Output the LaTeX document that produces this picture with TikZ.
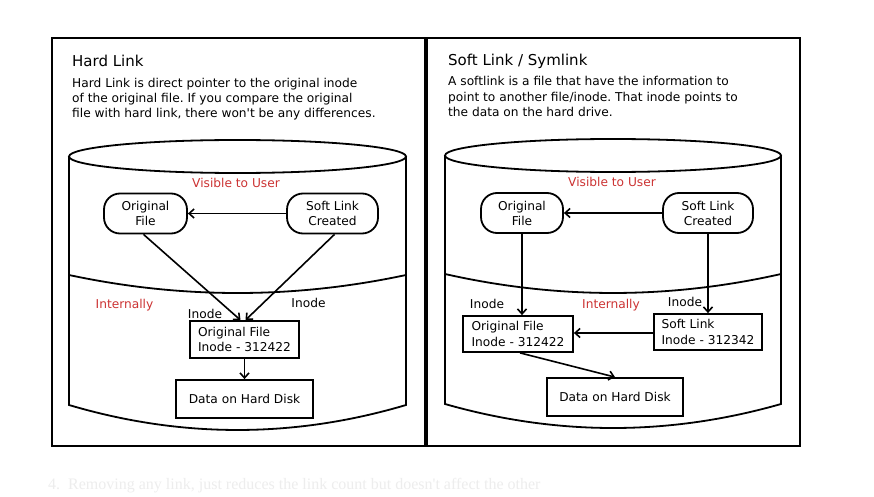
\documentclass[tikz,border=0pt]{standalone}
\usepackage{fontspec}
\setmainfont{DejaVu Sans}[Ligatures=TeXOff]
\newfontfamily\bgfont{Liberation Serif}[Ligatures=TeXOff]
\usetikzlibrary{arrows.meta}
\definecolor{lblred}{RGB}{204,51,51}
\frenchspacing
\begin{document}
\begin{tikzpicture}[x=1pt,y=-1pt,
  frame/.style={line width=2pt},
  divider/.style={line width=3.6pt},
  cyl/.style={line width=1.8pt},
  rnode/.style={draw,line width=1.8pt,rounded corners=16pt,minimum height=40pt,align=center,inner sep=0pt,font=\fontsize{12.2}{15}\selectfont},
  bnode/.style={draw,line width=1.8pt,align=left,inner sep=0pt,font=\fontsize{12.2}{15.5}\selectfont},
  link/.style={line width=1.6pt,-{Straight Barb[length=5pt,width=9pt]}},
  lbl/.style={font=\fontsize{12.2}{14}\selectfont,inner sep=0pt,anchor=base},
  redlbl/.style={lbl,text=lblred},
  title/.style={font=\fontsize{15}{18}\selectfont,inner sep=0pt,anchor=base west},
  desc/.style={font=\fontsize{12.2}{15.2}\selectfont,inner sep=0pt,align=left,anchor=north west},
]
\useasboundingbox (0,0) rectangle (874,497);
\fill[white] (0,0) rectangle (874,497);

% faint background text
\node[anchor=base west,inner sep=0pt,text=black!7,font=\bgfont\fontsize{16}{18}\selectfont] (bg) at (48,489) {4.\enspace Removing any link, just reduces the link count but doesn't affect the other};

% frames
\draw[frame] (52,38) rectangle (800,446);
\draw[divider] (426,38) -- (426,446);

% ---------------- left panel ----------------
\node[title] (ltitle) at (72,67) {Hard Link};
\node[desc] (ldesc) at (72,78.0) {Hard Link is direct pointer to the original inode\\of the original file. If you compare the original\\file with hard link, there won't be any differences.};

\draw[cyl] (237.5,156.5) ellipse [x radius=168.5, y radius=16.5];
\draw[cyl] (69,156.5) -- (69,405) .. controls (181.3,438.3) and (293.7,438.3) .. (406,405) -- (406,156.5);
\draw[cyl] (69,275) .. controls (181.3,299) and (293.7,299) .. (406,275);

\node[redlbl] (lvis) at (236,187.3) {Visible to User};
\node[redlbl] (lint) at (124.5,308) {Internally};

\node[rnode,minimum width=83pt] (lof) at (145.5,213.5) {Original\\File};
\node[rnode,minimum width=91pt] (lsl) at (332.5,213.5) {Soft Link\\Created};
\node[bnode,minimum width=109pt,minimum height=37pt] (lino) at (244.5,339.5) {Original File\\Inode - 312422};
\node[bnode,minimum width=137pt,minimum height=38pt] (ldata) at (244.5,399) {Data on Hard Disk};

\node[lbl] (linoA) at (205,318) {Inode};
\node[lbl] (linoB) at (308.5,307.5) {Inode};

\draw[link] (lsl.west) -- (lof.east);
\draw[link] ([xshift=-2pt]lof.south) -- ([xshift=-4pt]lino.north);
\draw[link] ([xshift=2pt]lsl.south) -- ([xshift=1pt]lino.north);
\draw[link] (lino.south) -- (ldata.north);

% ---------------- right panel ----------------
\node[title] (rtitle) at (448,66) {Soft Link / Symlink};
\node[desc] (rdesc) at (448,76.4) {A softlink is a file that have the information to\\point to another file/inode. That inode points to\\the data on the hard drive.};

\draw[cyl] (613,155.5) ellipse [x radius=168, y radius=16.5];
\draw[cyl] (445,155.5) -- (445,404) .. controls (557,436) and (669,436) .. (781,404) -- (781,155.5);
\draw[cyl] (445,274) .. controls (557,299.3) and (669,299.3) .. (781,274);

\node[redlbl] (rvis) at (612,186.5) {Visible to User};
\node[redlbl] (rint) at (611,308) {Internally};

\node[rnode,minimum width=82pt] (rof) at (522,213) {Original\\File};
\node[rnode,minimum width=90pt] (rsl) at (708,213) {Soft Link\\Created};
\node[bnode,minimum width=110pt,minimum height=36pt] (rino) at (518,334) {Original File\\Inode - 312422};
\node[bnode,minimum width=108pt,minimum height=36pt] (rsli) at (708,332) {Soft Link\\Inode - 312342};
\node[bnode,minimum width=136pt,minimum height=38pt] (rdata) at (615,397) {Data on Hard Disk};

\node[lbl] (rinoA) at (487,308) {Inode};
\node[lbl] (rinoB) at (685,306.5) {Inode};

\draw[link] (rsl.west) -- (rof.east);
\draw[link] (rof.south) -- (rof.south |- rino.north);
\draw[link] (rsl.south) -- (rsl.south |- rsli.north);
\draw[link] (rsli.west |- 0,333) -- (rino.east |- 0,333);
\draw[link] ([xshift=2pt]rino.south) -- (rdata.north);
\end{tikzpicture}
\end{document}
